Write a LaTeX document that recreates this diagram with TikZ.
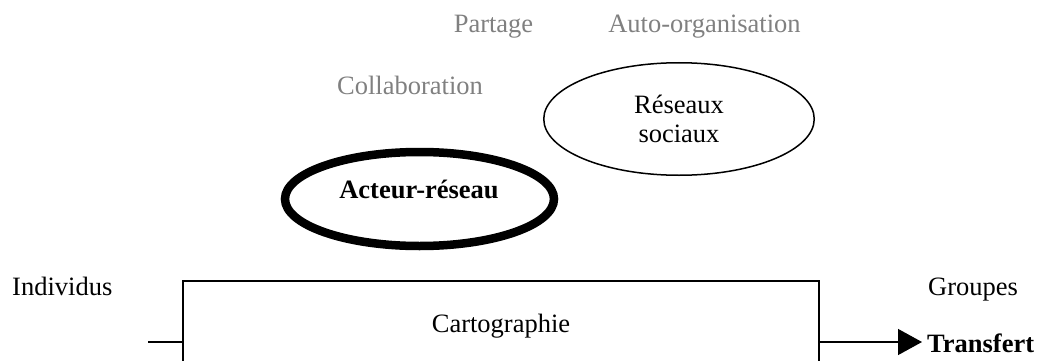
\documentclass[tikz,border=0pt]{standalone}
\usepackage{fontspec}
\setmainfont{Liberation Serif}
\usetikzlibrary{shapes.geometric,arrows.meta}
\definecolor{softgray}{RGB}{128,128,128}
\tikzset{
  txt/.style={inner sep=0pt, anchor=base, font=\fontsize{26.5}{29.5}\selectfont},
  graytxt/.style={txt, text=softgray},
  thinell/.style={ellipse, draw, line width=1.5pt, inner sep=0pt, align=center, font=\fontsize{26.5}{29.5}\selectfont},
  thickell/.style={ellipse, draw, line width=8.5pt, inner sep=0pt},
  mainbox/.style={draw, line width=1.3pt, inner sep=0pt, font=\fontsize{26.5}{29.5}\selectfont},
  conn/.style={line width=1.3pt},
}
\begin{document}
\begin{tikzpicture}[x=1pt,y=-1pt]
\useasboundingbox (0,0) rectangle (1041,361);
\node[graytxt] (partage) at (493.5,33) {Partage};
\node[graytxt] (auto) at (704.5,33) {Auto-organisation};
\node[graytxt] (collab) at (410,95) {Collaboration};
\node[thinell, minimum width=270.5pt, minimum height=112.5pt] (reseaux) at (679,119) {Réseaux\\sociaux};
\node[thickell, minimum width=269pt, minimum height=94pt] (acteurell) at (419.5,199) {};
\node[txt, font=\fontsize{26.5}{29.5}\selectfont\bfseries] (acteur) at (419,198) {Acteur-réseau};
\node[mainbox, minimum width=636pt, minimum height=90pt] (cart) at (501,326) {Cartographie};
\node[txt, anchor=base west] (individus) at (12,295) {Individus};
\node[txt, anchor=base west] (groupes) at (928,295) {Groupes};
\node[txt, anchor=base west, font=\fontsize{26.5}{29.5}\selectfont\bfseries, inner xsep=0pt] (transfert) at (927,352) {Transfert};
\coordinate (lin) at (148,342);
\coordinate (tip) at (922,342);
\draw[conn] (lin) -- (lin -| cart.west);
\draw[conn, -{Triangle[length=24pt, width=26pt]}] (cart.east |- tip) -- (tip);
\end{tikzpicture}
\end{document}
